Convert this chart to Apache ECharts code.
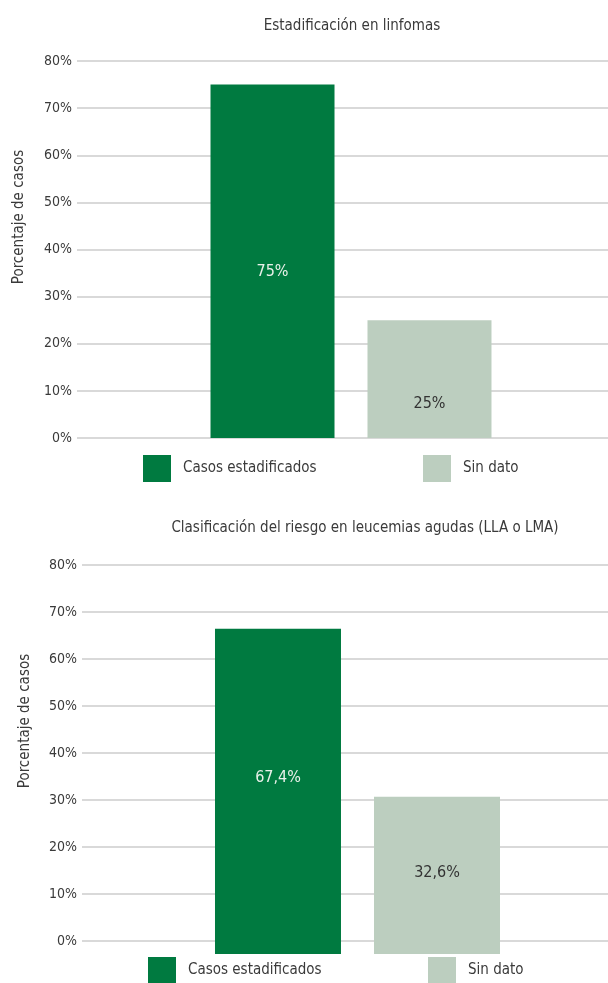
<!DOCTYPE html>
<html>
<head>
<meta charset="utf-8">
<script src="https://cdn.jsdelivr.net/npm/echarts@6/dist/echarts.min.js"></script>
<style>
html,body{margin:0;padding:0;background:#fff;}
#c{width:608px;height:983px;}
</style>
</head>
<body>
<div id="c"></div>
<script>
// ---- data ----
const chartTitles = ['Estadificación en linfomas', 'Clasificación del riesgo en leucemias agudas (LLA o LMA)'];
const seriesNames = ['Casos estadificados', 'Sin dato'];
const linfomasValues = [75, 25];
const leucemiasValues = [67.4, 32.6];
const yAxisName = 'Porcentaje de casos';
const yMin = 0, yMax = 80, yStep = 10;

// ---- styles ----
const FONT = "'Liberation Sans Narrow', 'DejaVu Sans Condensed', sans-serif";
const TXT = '#3a3a3a';
const GREEN = '#007a40';
const LIGHT = '#bccebf';
const GRIDC = '#d9d9d9';
const colors = [GREEN, LIGHT];
const labelColors = ['#e9f1ea', '#333333'];

const fmtPct = v => String(v).replace('.', ',') + '%';

const chart = echarts.init(document.getElementById('c'), null, {renderer: 'canvas'});

function yAxisCfg(gridIndex, show) {
  return {
    type: 'value', gridIndex, min: yMin, max: yMax, interval: yStep,
    show: true,
    axisLine: {show: false}, axisTick: {show: false},
    axisLabel: show ? {show: true, color: TXT, fontFamily: FONT, fontSize: 14, margin: 5,
      formatter: v => v + '%'} : {show: false},
    splitLine: show ? {show: true, lineStyle: {color: GRIDC, width: 2}} : {show: false}
  };
}
function xAxisCfg(gridIndex) {
  return {type: 'category', gridIndex, data: [''], show: false};
}

function makeSeries(values, axisIdx, barWidth, barGap, offsets) {
  return values.map((v, i) => ({
    type: 'bar', name: seriesNames[i], xAxisIndex: axisIdx, yAxisIndex: axisIdx,
    barWidth: barWidth, barGap: barGap,
    itemStyle: {color: colors[i]},
    data: [v],
    label: {show: true, position: 'inside', offset: [0, offsets[i]],
      formatter: p => fmtPct(p.value), color: labelColors[i], fontFamily: FONT, fontSize: 16},
    emphasis: {disabled: true},
    silent: true
  }));
}

function legendCfg(name, left, top) {
  return {
    data: [name], left, top, icon: 'rect', itemWidth: 28, itemHeight: 27,
    selectedMode: false, padding: 0,
    textStyle: {color: TXT, fontFamily: FONT, fontSize: 15, padding: [0, 0, 0, 7]}
  };
}

chart.setOption({
  animation: false,
  color: colors,
  title: [
    {text: chartTitles[0], left: 347, top: 14, textAlign: 'center',
     textStyle: {color: TXT, fontFamily: FONT, fontSize: 15, fontWeight: 'normal'}},
    {text: chartTitles[1], left: 360, top: 516, textAlign: 'center',
     textStyle: {color: TXT, fontFamily: FONT, fontSize: 15, fontWeight: 'normal'}}
  ],
  grid: [
    // chart 1: gridlines / axis
    {left: 77, top: 61, right: 0, height: 377},
    // chart 1: bars (category centred a little right of the visible plot)
    {left: 94, top: 61, right: 0, height: 377},
    // chart 2: gridlines / axis
    {left: 82, top: 565, right: 0, height: 376},
    // chart 2: bars
    {left: 107, top: 568, right: 0, height: 386}
  ],
  xAxis: [xAxisCfg(0), xAxisCfg(1), xAxisCfg(2), xAxisCfg(3)],
  yAxis: [yAxisCfg(0, true), yAxisCfg(1, false), yAxisCfg(2, true), yAxisCfg(3, false)],
  legend: [
    legendCfg(seriesNames[0], 143, 455),
    legendCfg(seriesNames[1], 423, 455),
    legendCfg(seriesNames[0], 148, 957),
    legendCfg(seriesNames[1], 428, 957)
  ],
  graphic: [
    {type: 'text', x: 19, y: 217, rotation: Math.PI / 2,
     style: {text: yAxisName, fill: TXT, font: '15px ' + FONT, align: 'center', verticalAlign: 'middle'}},
    {type: 'text', x: 25, y: 721, rotation: Math.PI / 2,
     style: {text: yAxisName, fill: TXT, font: '15px ' + FONT, align: 'center', verticalAlign: 'middle'}}
  ],
  series: [
    ...makeSeries(linfomasValues, 1, 124, '26.6%', [11, 25]),
    ...makeSeries(leucemiasValues, 3, 126, '26.2%', [-14, -3])
  ]
});
</script>
</body>
</html>
